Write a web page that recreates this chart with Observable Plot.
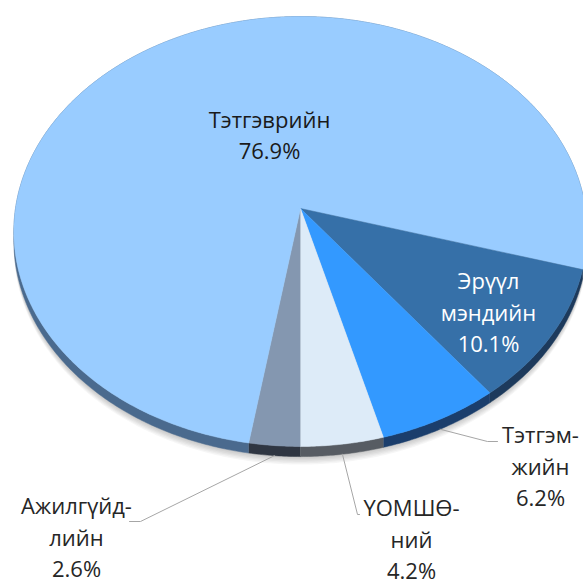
<!DOCTYPE html>
<html>
<head>
<meta charset="utf-8">
<script src="https://cdn.jsdelivr.net/npm/d3@7"></script>
<script src="https://cdn.jsdelivr.net/npm/@observablehq/plot@0.6"></script>
<style>
  html, body { margin: 0; padding: 0; background: #fff; }
  #chart svg { display: block; }
</style>
</head>
<body>
<div id="chart"></div>
<script>
// ---- data ----
const categories = ["Ажилгүйдлийн", "Тэтгэврийн", "Эрүүл мэндийн", "Тэтгэмжийн", "ҮОМШӨний"];
const labelLines = ["Ажилгүйд-\nлийн", "Тэтгэврийн", "Эрүүл\nмэндийн", "Тэтгэм-\nжийн", "ҮОМШӨ-\nний"];
const values = [2.6, 76.9, 10.1, 6.2, 4.2];
const topColors = ["#8497b0", "#99ccff", "#3670a8", "#3399ff", "#ddebf8"];
const sideColors = ["#2f3642", "#4a6a8e", "#1d3a5c", "#1b3e6c", "#575c63"];
const textColors = ["#262626", "#1a1a1a", "#ffffff", "#262626", "#262626"];

// ---- layout (projection of a tilted disc) ----
const W = 583, H = 586;
const cx = 300, cy = 208, A = 285, B = 212.5, k = 0.107, depth = 9;
const startDeg = 180;
// label block centres and leader elbows (layout)
const labelPos = [[76, 535], [269, 133], [488, 310], [540, 464], [411, 537]];
const leaderPts = [[[140, 521], [129, 521]], null, null, [[487, 441], [497, 441]], [[357, 514], [359, 514]]];

function proj(deg, drop = 0) {
  const t = deg * Math.PI / 180;
  const u = Math.sin(t), v = -Math.cos(t);
  const s = 1 / (1 - k * v);
  return [cx + A * u * s, cy + B * v * s + drop * s];
}
function arc(a0, a1, drop = 0) {
  const n = Math.max(2, Math.ceil(Math.abs(a1 - a0) / 0.5));
  return d3.range(n + 1).map(i => proj(a0 + (a1 - a0) * i / n, drop));
}

const total = d3.sum(values);
let acc = startDeg;
const slices = values.map((v, i) => {
  const a0 = acc, a1 = acc + v / total * 360;
  acc = a1;
  return {i, a0, a1, mid: (a0 + a1) / 2};
});

// polygons
const shadowPts = [], sidePts = [], topPts = [];
for (let j = 1; j <= 6; j++) {
  arc(0, 360, depth + j * 1.2).forEach(([x, y]) => shadowPts.push({x, y, id: "s" + j}));
}
slices.forEach(s => {
  const up = arc(s.a0, s.a1, 0), dn = arc(s.a0, s.a1, depth).reverse();
  up.concat(dn).forEach(([x, y]) => sidePts.push({x, y, id: s.i, c: sideColors[s.i]}));
  [[cx, cy]].concat(arc(s.a0, s.a1, 0)).forEach(([x, y]) => topPts.push({x, y, id: s.i, c: topColors[s.i]}));
});

// leaders
const leaderData = [];
slices.forEach(s => {
  const pts = leaderPts[s.i];
  if (!pts) return;
  [proj(s.mid, depth)].concat(pts).forEach(([x, y]) => leaderData.push({x, y, id: s.i}));
});

const labels = slices.map(s => ({
  x: labelPos[s.i][0], y: labelPos[s.i][1],
  text: labelLines[s.i] + "\n" + values[s.i].toFixed(1) + "%",
  c: textColors[s.i]
}));

const chart = Plot.plot({
  width: W, height: H, margin: 0,
  x: {domain: [0, W], range: [0, W], axis: null},
  y: {domain: [0, H], range: [0, H], axis: null},
  color: {type: "identity"},
  marks: [
    Plot.line(shadowPts, {x: "x", y: "y", z: "id", fill: "#000", fillOpacity: 0.035, stroke: "none"}),
    Plot.line(sidePts, {x: "x", y: "y", z: "id", fill: "c", stroke: "c", strokeWidth: 0.5}),
    Plot.line(topPts, {x: "x", y: "y", z: "id", fill: "c", stroke: "c", strokeWidth: 0.5}),
    Plot.line(leaderData, {x: "x", y: "y", z: "id", stroke: "#a6a6a6", strokeWidth: 1, curve: "linear"}),
    Plot.text(labels, {x: "x", y: "y", text: "text", fill: "c", fontSize: 22, lineHeight: 1.43,
      fontFamily: "Open Sans", textAnchor: "middle", lineAnchor: "middle"})
  ]
});
document.getElementById("chart").appendChild(chart);
</script>
</body>
</html>
